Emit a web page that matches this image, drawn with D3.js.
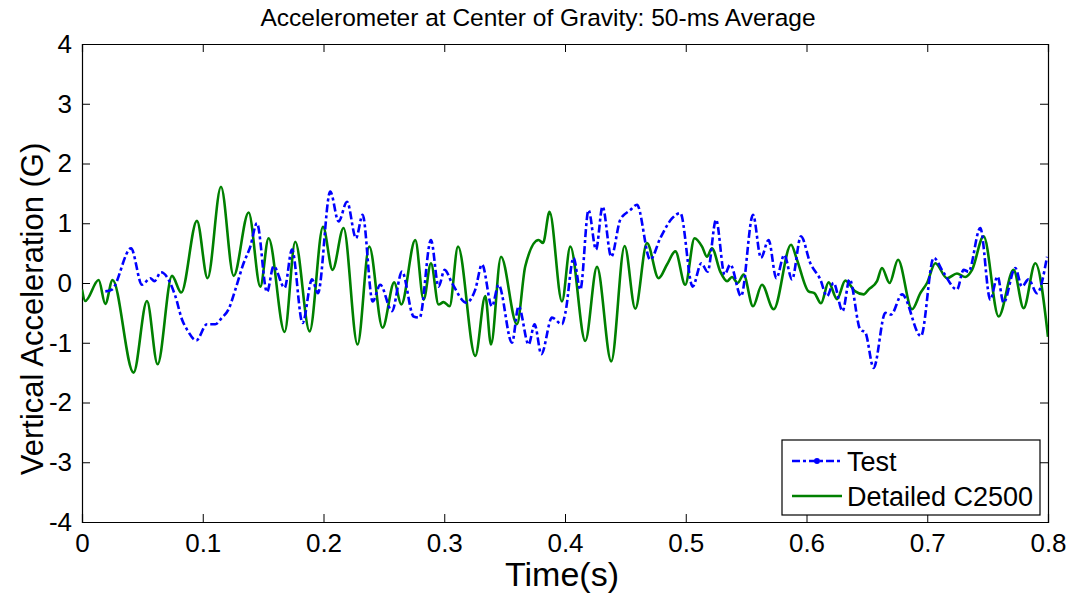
<!DOCTYPE html>
<html>
<head>
<meta charset="utf-8">
<script src="https://cdn.jsdelivr.net/npm/d3@7"></script>
<style>
  body { margin: 0; background: #fff; }
  text { font-family: Arial, "Liberation Sans", Helvetica, sans-serif; fill: #000; }
</style>
</head>
<body>
<svg id="chart" width="1073" height="596"></svg>
<script>
// test data (blue, dash-dot)
var testTime = [0.0193, 0.0248, 0.0406, 0.0497, 0.0566, 0.0599, 0.0654, 0.0773, 0.0828, 0.087,
    0.0947, 0.1035, 0.1104, 0.1159, 0.1214, 0.127, 0.1338, 0.1394, 0.1449, 0.1532,
    0.1587, 0.1678, 0.1739, 0.1827, 0.1905, 0.1954, 0.2056, 0.2125, 0.2195, 0.2269,
    0.2324, 0.2407, 0.247, 0.2567, 0.265, 0.2746, 0.2796, 0.289, 0.2953, 0.3003,
    0.3064, 0.3183, 0.3257, 0.3313, 0.3395, 0.345, 0.3561, 0.3616, 0.3699, 0.3748,
    0.3804, 0.3892, 0.3975, 0.4003, 0.4071, 0.4127, 0.4195, 0.4257, 0.4311, 0.4383,
    0.4458, 0.4541, 0.4596, 0.4706, 0.4789, 0.4886, 0.4955, 0.5057, 0.5129, 0.5181,
    0.5251, 0.5322, 0.5369, 0.5458, 0.5557, 0.5623, 0.5686, 0.575, 0.5816, 0.588,
    0.5954, 0.6032, 0.6114, 0.617, 0.6224, 0.6299, 0.6357, 0.6445, 0.6487, 0.6556,
    0.6653, 0.67, 0.6791, 0.6948, 0.7053, 0.7136, 0.7246, 0.7301, 0.7342, 0.7439,
    0.7522, 0.7582, 0.7632, 0.7729, 0.7784, 0.7839, 0.7909, 0.7992];
var testAccel = [-0.14, -0.11, 0.58, -0.03, 0.08, 0.03, 0.18, -0.22, -0.61, -0.78,
    -0.96, -0.69, -0.69, -0.58, -0.44, -0.11, 0.33, 0.61, 1.0, -0.15,
    0.28, -0.08, 0.56, -0.67, 0.06, -0.17, 1.53, 1.03, 1.36, 0.75,
    1.14, -0.31, -0.03, -0.47, 0.19, -0.56, -0.58, 0.72, -0.06, 0.22,
    0.0, -0.33, -0.11, 0.31, -0.39, -0.03, -1.0, -0.39, -1.03, -0.69,
    -1.19, -0.58, -0.69, -0.5, 0.42, -0.11, 1.22, 0.56, 1.28, 0.44,
    1.06, 1.22, 1.31, 0.39, 0.75, 1.08, 1.17, -0.06, 0.33, 0.19,
    1.06, 0.14, 0.31, -0.22, 1.14, 0.42, 0.72, 0.08, 0.47, 0.06,
    0.78, 0.33, 0.06, -0.22, 0.0, -0.47, 0.06, -0.78, -0.83, -1.42,
    -0.5, -0.53, -0.19, -0.89, 0.42, 0.17, -0.11, 0.22, 0.19, 0.92,
    -0.28, 0.11, -0.33, 0.25, -0.06, 0.06, -0.17, 0.44];

// detailed C2500 model (green, solid)
var modelTime = [0, 0.0027, 0.0138, 0.0193, 0.0253, 0.0427, 0.0538, 0.0626, 0.0745, 0.0822,
    0.0952, 0.104, 0.1151, 0.1256, 0.138, 0.1477, 0.1545, 0.1678, 0.1766, 0.1885,
    0.1996, 0.2075, 0.2166, 0.2282, 0.2379, 0.2489, 0.2586, 0.2644, 0.276, 0.2829,
    0.289, 0.2953, 0.2995, 0.3044, 0.3114, 0.3257, 0.334, 0.3387, 0.347, 0.3602,
    0.3671, 0.3781, 0.3818, 0.3872, 0.3975, 0.4044, 0.4168, 0.4265, 0.4383, 0.4494,
    0.4582, 0.4679, 0.4775, 0.4845, 0.4914, 0.4996, 0.5073, 0.5135, 0.5176, 0.5217,
    0.5286, 0.5342, 0.5383, 0.543, 0.5479, 0.5557, 0.5631, 0.5728, 0.5872, 0.5921,
    0.6017, 0.6065, 0.612, 0.6183, 0.6253, 0.6321, 0.6404, 0.6473, 0.6514, 0.6584,
    0.6625, 0.6688, 0.6758, 0.6874, 0.6943, 0.6998, 0.7067, 0.7164, 0.7246, 0.7315,
    0.7371, 0.7467, 0.7591, 0.7715, 0.7798, 0.7895, 0.8];
var modelAccel = [-0.11, -0.3, 0.05, -0.35, 0.05, -1.5, -0.3, -1.36, 0.12, -0.16,
    1.04, 0.08, 1.61, 0.12, 1.18, -0.06, 0.75, -0.82, 0.69, -0.81,
    0.94, 0.22, 0.92, -1.03, 0.61, -0.75, 0.01, -0.36, 0.72, -0.28,
    0.33, -0.36, -0.32, -0.39, 0.61, -1.22, -0.22, -1.03, 0.44, -0.69,
    0.28, 0.72, 0.67, 1.19, -0.31, 0.61, -0.97, 0.27, -1.31, 0.62,
    -0.43, 0.67, 0.08, 0.31, 0.53, -0.03, 0.75, 0.61, 0.44, 0.58,
    0.19, 0.03, 0.1, 0.0, 0.14, -0.39, -0.03, -0.44, 0.64, 0.39,
    -0.14, -0.17, -0.34, 0.01, -0.27, 0.04, -0.14, -0.19, -0.11, 0.03,
    0.25, 0.0, 0.39, -0.44, -0.17, 0.0, 0.33, 0.08, 0.16, 0.1,
    0.22, 0.78, -0.56, 0.22, -0.42, 0.33, -0.9];

var xTicks = [0, 0.1, 0.2, 0.3, 0.4, 0.5, 0.6, 0.7, 0.8];
var yTicks = [-4, -3, -2, -1, 0, 1, 2, 3, 4];
var seriesNames = ['Test', 'Detailed C2500'];

function drawChart () {

    var svg = d3.select('#chart');
    var plotLeft = 82, plotRight = 1048, plotTop = 44, plotBottom = 522;

    var x = d3.scaleLinear().domain([0, 0.8]).range([plotLeft, plotRight]);
    var y = d3.scaleLinear().domain([-4, 4]).range([plotBottom, plotTop]);

    svg.append('clipPath').attr('id', 'plotClip')
        .append('rect')
        .attr('x', plotLeft).attr('y', plotTop)
        .attr('width', plotRight - plotLeft).attr('height', plotBottom - plotTop);

    // axes, MATLAB style: ticks inward on all four sides, plain hyphen minus
    var tickLen = 8;
    var plainFmt = function (d) { return String(d); };

    svg.append('g')
        .attr('transform', 'translate(0,' + plotBottom + ')')
        .call(d3.axisBottom(x).tickValues(xTicks).tickSize(-tickLen).tickPadding(12)
            .tickFormat(plainFmt))
        .call(function (g) { g.selectAll('text').style('font-size', '26px'); });

    svg.append('g')
        .attr('transform', 'translate(0,' + plotTop + ')')
        .call(d3.axisTop(x).tickValues(xTicks).tickSize(-tickLen).tickFormat(''));

    svg.append('g')
        .attr('transform', 'translate(' + plotLeft + ',0)')
        .call(d3.axisLeft(y).tickValues(yTicks).tickSize(-tickLen).tickPadding(10)
            .tickFormat(plainFmt))
        .call(function (g) { g.selectAll('text').style('font-size', '26px'); });

    svg.append('g')
        .attr('transform', 'translate(' + plotRight + ',0)')
        .call(d3.axisRight(y).tickValues(yTicks).tickSize(-tickLen).tickFormat(''));

    svg.selectAll('.domain').attr('stroke', '#000').attr('stroke-width', 1.2);
    svg.selectAll('.tick line').attr('stroke', '#000');

    // curves
    var line = d3.line()
        .x(function (d) { return x(d[0]); })
        .y(function (d) { return y(d[1]); })
        .curve(d3.curveMonotoneX);

    var plot = svg.append('g').attr('clip-path', 'url(#plotClip)');

    plot.append('path')
        .datum(d3.zip(modelTime, modelAccel))
        .attr('d', line)
        .attr('fill', 'none')
        .attr('stroke', '#008000')
        .attr('stroke-width', 2.6);

    plot.append('path')
        .datum(d3.zip(testTime, testAccel))
        .attr('d', line)
        .attr('fill', 'none')
        .attr('stroke', '#0000ff')
        .attr('stroke-width', 2.6)
        .attr('stroke-dasharray', '8,3,3,3');

    // title and axis labels
    svg.append('text')
        .attr('x', 538).attr('y', 26)
        .attr('text-anchor', 'middle')
        .style('font-size', '24.5px')
        .text('Accelerometer at Center of Gravity: 50-ms Average');

    svg.append('text')
        .attr('x', 562).attr('y', 586)
        .attr('text-anchor', 'middle')
        .style('font-size', '34px')
        .text('Time(s)');

    svg.append('text')
        .attr('transform', 'translate(43,' + ((plotTop + plotBottom) / 2 + 26) + ') rotate(-90)')
        .attr('text-anchor', 'middle')
        .style('font-size', '31px')
        .text('Vertical Acceleration (G)');

    // legend
    var legend = svg.append('g').attr('transform', 'translate(782,440)');
    legend.append('rect')
        .attr('width', 258).attr('height', 75)
        .attr('fill', '#fff').attr('stroke', '#000').attr('stroke-width', 1.2);

    var rowY = [21, 56];
    legend.append('line')
        .attr('x1', 10).attr('x2', 60).attr('y1', rowY[0]).attr('y2', rowY[0])
        .attr('stroke', '#0000ff').attr('stroke-width', 2.6).attr('stroke-dasharray', '8,3,3,3');
    legend.append('circle')
        .attr('cx', 35).attr('cy', rowY[0]).attr('r', 3).attr('fill', '#0000ff');
    legend.append('line')
        .attr('x1', 10).attr('x2', 60).attr('y1', rowY[1]).attr('y2', rowY[1])
        .attr('stroke', '#008000').attr('stroke-width', 2.6);

    legend.selectAll('text.lab')
        .data(seriesNames)
        .enter().append('text')
        .attr('class', 'lab')
        .attr('x', 65)
        .attr('y', function (d, i) { return rowY[i] + 10; })
        .style('font-size', '27px')
        .text(function (d) { return d; });
}

drawChart();
</script>
</body>
</html>
